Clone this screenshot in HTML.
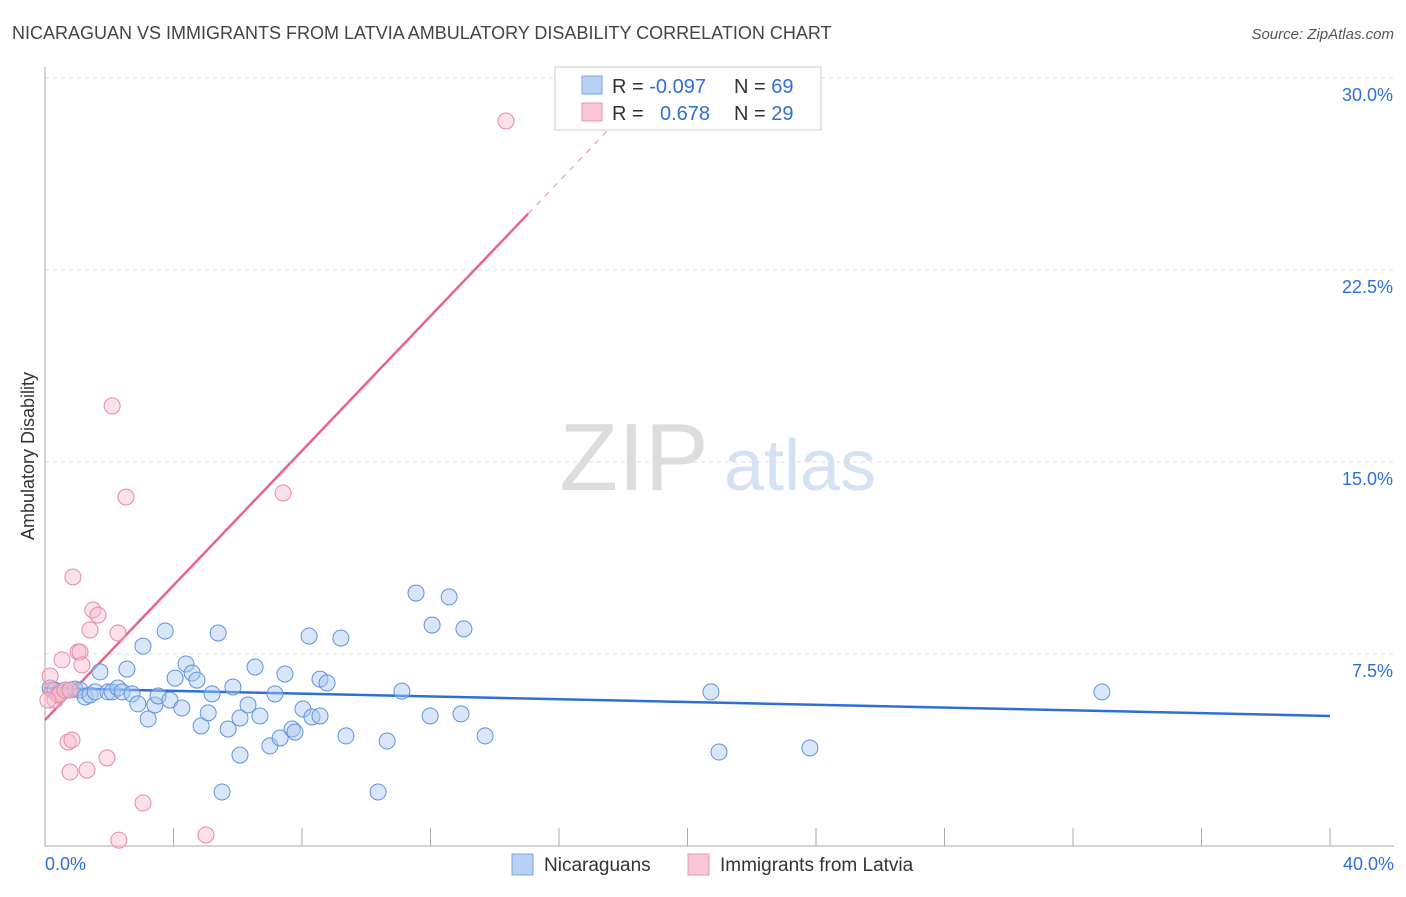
<!DOCTYPE html>
<html><head><meta charset="utf-8"><style>
body{margin:0;background:#fff;font-family:"Liberation Sans",sans-serif;}
svg text{font-family:"Liberation Sans",sans-serif;}
</style></head><body>
<svg id="chart" width="1406" height="892" xmlns="http://www.w3.org/2000/svg">
<text x="12" y="39" font-size="18" fill="#444">NICARAGUAN VS IMMIGRANTS FROM LATVIA AMBULATORY DISABILITY CORRELATION CHART</text>
<text x="1394" y="39" font-size="15" fill="#555" text-anchor="end" font-style="italic">Source: ZipAtlas.com</text>
<text transform="translate(34,456) rotate(-90)" font-size="18" fill="#333" text-anchor="middle">Ambulatory Disability</text>
<g>
<text x="634" y="490" font-size="96" fill="#ddd" text-anchor="middle" font-family="Liberation Serif">ZIP</text>
<text x="800" y="490" font-size="72" fill="#d4e2f4" text-anchor="middle">atlas</text>
</g>
<g id="grid"></g><g id="axes"></g><g id="lines"></g><g id="points"></g>
<g>
<rect x="555" y="67" width="266" height="63" fill="#fff" stroke="#ccc"/>
<rect x="582" y="76" width="20" height="18" fill="#b7d0f3" stroke="#7aa6e0"/>
<text x="612" y="93" font-size="20" fill="#333">R = <tspan fill="#2e6fd6">-0.097</tspan></text>
<text x="734" y="93" font-size="20" fill="#333">N = <tspan fill="#2e6fd6">69</tspan></text>
<rect x="582" y="103" width="20" height="18" fill="#f8c6d5" stroke="#e998b2"/>
<text x="612" y="120" font-size="20" fill="#333">R = </text>
<text x="660" y="120" font-size="20" fill="#2e6fd6">0.678</text>
<text x="734" y="120" font-size="20" fill="#333">N = <tspan fill="#2e6fd6">29</tspan></text>
</g>
<g>
<rect x="512" y="854" width="21" height="21" fill="#b7d0f3" stroke="#7aa6e0"/>
<text x="544" y="871" font-size="19" fill="#333">Nicaraguans</text>
<rect x="688" y="854" width="21" height="21" fill="#f8c6d5" stroke="#e998b2"/>
<text x="720" y="871" font-size="19" fill="#333">Immigrants from Latvia</text>
</g>
</svg>
<script>
const yTicks=[7.5,15,22.5,30];
const yTickLabels=["7.5%","15.0%","22.5%","30.0%"];
const xEndLabels=["0.0%","40.0%"];
const blueX=[0.16,0.31,0.47,0.62,0.78,0.93,1.09,1.25,1.4,1.56,1.71,1.96,2.09,2.27,2.4,2.55,2.71,2.89,3.05,3.21,3.42,3.52,3.74,3.89,4.05,4.26,4.39,4.58,4.73,4.86,5.08,5.2,5.39,5.51,5.70,5.85,6.07,6.07,6.32,6.54,6.69,7.0,7.16,7.32,7.47,7.69,7.78,8.03,8.22,8.31,8.56,8.56,8.78,9.21,9.37,10.37,10.65,11.11,11.55,11.99,12.05,12.58,12.95,13.04,13.70,20.73,20.98,23.81,32.90];
const blueY=[6.17,6.09,6.02,6.09,6.09,6.13,6.09,5.82,5.9,6.02,6.8,6.02,6.02,6.17,6.02,6.91,5.94,5.55,7.81,4.96,5.51,5.86,8.4,5.7,6.56,5.39,7.11,6.76,6.48,4.69,5.2,5.94,8.32,2.11,4.57,6.21,5.0,3.55,5.51,6.99,5.08,3.91,5.94,4.22,6.72,4.57,4.45,5.35,8.2,5.04,6.52,5.08,6.37,8.12,4.3,2.11,4.1,6.05,9.88,5.08,8.63,9.73,5.16,8.48,4.3,6.02,3.67,3.83,6.02];
const pinkX=[0.16,0.22,0.31,0.40,0.47,0.53,0.62,0.72,0.78,0.84,0.87,1.03,1.09,1.15,1.31,1.40,1.49,1.65,1.93,2.09,2.27,2.30,2.52,3.05,5.01,7.41,14.35,0.09,0.78];
const pinkY=[6.64,6.09,5.7,5.9,5.94,7.27,6.09,4.06,2.89,4.14,10.51,7.58,7.58,7.07,2.97,8.44,9.22,9.02,3.44,17.19,8.32,0.23,13.63,1.68,0.43,13.79,28.32,5.7,6.09];
const blueFit=[6.17,5.08];
const pinkFit=[4.92,24.7];
const NS="http://www.w3.org/2000/svg";
const X=v=>45+v*32.125, Y=v=>846-v*25.6;
function mk(t,a,p){const e=document.createElementNS(NS,t);for(const k in a)e.setAttribute(k,a[k]);document.getElementById(p).appendChild(e);return e;}
yTicks.forEach((t,i)=>{
 const g=mk('line',{x1:45,x2:1394,y1:Y(t),y2:Y(t),stroke:'#ddd','stroke-dasharray':'4,4'},'grid');
 
 
 const l=mk('text',{x:1393,y:Y(t)+23,'font-size':18,fill:'#2e6fd6','text-anchor':'end'},'axes');
 l.textContent=yTickLabels[i];
 
 
});
const ax=mk('line',{x1:45,x2:45,y1:67,y2:846,stroke:'#aaa'},'axes');


const bx=mk('line',{x1:45,x2:1394,y1:846,y2:846,stroke:'#aaa'},'axes');


for(let v=4;v<=40;v+=4){
 const t=mk('line',{x1:X(v),x2:X(v),y1:828,y2:846,stroke:'#aaa'},'axes');
 
 
}
[[0,'start',45],[40,'end',1394]].forEach((d,i)=>{
 const l=mk('text',{x:d[2],y:870,'font-size':18,fill:'#2e6fd6','text-anchor':d[1]},'axes');
 l.textContent=xEndLabels[i];
 
 
});
function pts(xs,ys,fill,stroke,name){
 xs.forEach((x,i)=>{
  const c=mk('circle',{cx:X(x),cy:Y(ys[i]),r:8,fill:fill,'fill-opacity':0.45,stroke:stroke,'stroke-width':1},'points');
  
  
 });
}
pts(blueX,blueY,'#a9c7f0','#5f93dc','nicaraguan-point');
pts(pinkX,pinkY,'#f6bccd','#e88aa8','latvia-point');
const bl=mk('line',{x1:X(0),y1:Y(blueFit[0]),x2:X(40),y2:Y(blueFit[1]),stroke:'#2e6fd6','stroke-width':2.5},'lines');


const slope=(pinkFit[1]-pinkFit[0])/15.04;
const pl=mk('line',{x1:X(0),y1:Y(pinkFit[0]),x2:X(15.04),y2:Y(pinkFit[1]),stroke:'#e8648c','stroke-width':2.5},'lines');


const pd=mk('line',{x1:X(15.04),y1:Y(pinkFit[1]),x2:X(17.6),y2:Y(pinkFit[0]+slope*17.6),stroke:'#e8a0b6','stroke-width':1.2,'stroke-dasharray':'6,6'},'lines');


</script>
</body></html>
